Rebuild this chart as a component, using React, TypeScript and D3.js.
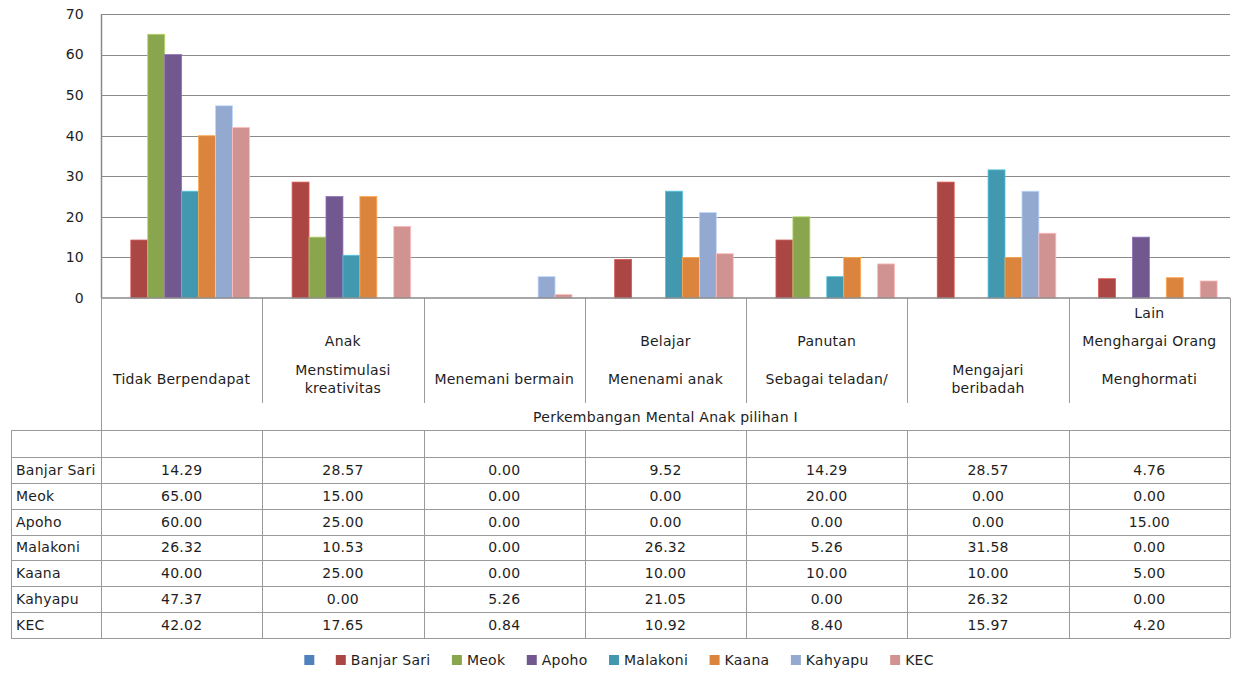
import React, { useEffect, useRef } from 'react';
import * as d3 from 'd3';

const categories: string[][] = [
  ['Tidak Berpendapat'],
  ['Anak', 'Menstimulasi\nkreativitas'],
  ['Menemani bermain'],
  ['Belajar', 'Menenami anak'],
  ['Panutan', 'Sebagai teladan/'],
  ['Mengajari\nberibadah'],
  ['Lain', 'Menghargai Orang', 'Menghormati'],
];
const seriesNames = ['', 'Banjar Sari', 'Meok', 'Apoho', 'Malakoni', 'Kaana', 'Kahyapu', 'KEC'];
const seriesColors = ['#4F81BD', '#AA4643', '#89A54E', '#71588F', '#4198AF', '#DB843D', '#93A9CF', '#D19392'];
const blankSeries: (number | null)[] = [null, null, null, null, null, null, null];
const banjarSari = [14.29, 28.57, 0.0, 9.52, 14.29, 28.57, 4.76];
const meok = [65.0, 15.0, 0.0, 0.0, 20.0, 0.0, 0.0];
const apoho = [60.0, 25.0, 0.0, 0.0, 0.0, 0.0, 15.0];
const malakoni = [26.32, 10.53, 0.0, 26.32, 5.26, 31.58, 0.0];
const kaana = [40.0, 25.0, 0.0, 10.0, 10.0, 10.0, 5.0];
const kahyapu = [47.37, 0.0, 5.26, 21.05, 0.0, 26.32, 0.0];
const kec = [42.02, 17.65, 0.84, 10.92, 8.4, 15.97, 4.2];
const yTicks = [0, 10, 20, 30, 40, 50, 60, 70];
const axisTitle = 'Perkembangan Mental Anak pilihan I';

const seriesValues = [blankSeries, banjarSari, meok, apoho, malakoni, kaana, kahyapu, kec];

const W = 1233;
const H = 683;
const FONT = '"DejaVu Sans", Verdana, sans-serif';
const LS = '0.25px';
const TEXT = '#1e1e1e';
const GRID = '#8a8a8a';
const TABLE = '#9a9a9a';

export default function App() {
  const ref = useRef<SVGSVGElement | null>(null);

  useEffect(() => {
    const svg = d3.select(ref.current);
    svg.selectAll('*').remove();

    const left = 101, right = 1230, top = 14, base = 298;
    const catIdx = categories.map((_, i) => String(i));
    const x0 = d3.scaleBand<string>().domain(catIdx).range([left, right]).paddingInner(0).paddingOuter(0);
    const x1 = d3.scaleBand<string>().domain(seriesNames.map((_, i) => String(i))).range([0, x0.bandwidth()]).paddingInner(0).paddingOuter(0.76);
    const y = d3.scaleLinear().domain([0, 70]).range([base, top]);

    // gridlines
    svg.append('g').selectAll('line').data(yTicks.filter(t => t > 0)).join('line')
      .attr('x1', left).attr('x2', right)
      .attr('y1', d => Math.round(y(d)) + 0.5).attr('y2', d => Math.round(y(d)) + 0.5)
      .attr('stroke', GRID).attr('stroke-width', 1);

    // tick labels
    svg.append('g').selectAll('text').data(yTicks).join('text')
      .attr('x', 84).attr('y', d => y(d)).attr('dy', '0.35em')
      .attr('text-anchor', 'end').attr('font-family', FONT).attr('font-size', 14).attr('fill', TEXT)
      .attr('letter-spacing', LS)
      .text(d => String(d));

    // bars
    const bars: { c: number; s: number; v: number }[] = [];
    seriesValues.forEach((vals, s) => vals.forEach((v, c) => { if (v !== null) bars.push({ c, s, v: v as number }); }));
    svg.append('g').selectAll('rect').data(bars).join('rect')
      .attr('x', d => (x0(String(d.c)) as number) + (x1(String(d.s)) as number))
      .attr('width', x1.bandwidth())
      .attr('y', d => y(d.v))
      .attr('height', d => base - y(d.v))
      .attr('fill', d => seriesColors[d.s])
      .attr('stroke', d => (d3.color(seriesColors[d.s]) as any).brighter(0.7).formatHex())
      .attr('stroke-width', d => (d.v > 0 ? 0.8 : 0));

    // table geometry
    const tableLeft = 11;
    const headerBottom = 403;
    const titleBottom = 430;
    const blankBottom = 457;
    const rowH = (638 - 457) / 7;
    const rowNames = seriesNames.slice(1);
    const rowsY = d3.range(rowNames.length + 1).map(i => blankBottom + i * rowH);
    const tg = svg.append('g');

    const bounds = catIdx.map(c => x0(c) as number).concat([right]);
    tg.selectAll('line.hv').data(bounds).join('line').attr('class', 'hv')
      .attr('x1', d => Math.round(d) + 0.5).attr('x2', d => Math.round(d) + 0.5)
      .attr('y1', base).attr('y2', (d, i) => (i === 0 || i === bounds.length - 1 ? titleBottom : headerBottom))
      .attr('stroke', TABLE).attr('stroke-width', 1);
    tg.selectAll('line.dv').data([tableLeft, ...bounds]).join('line').attr('class', 'dv')
      .attr('x1', d => Math.round(d) + 0.5).attr('x2', d => Math.round(d) + 0.5)
      .attr('y1', titleBottom).attr('y2', rowsY[rowsY.length - 1])
      .attr('stroke', TABLE).attr('stroke-width', 1);
    tg.selectAll('line.h').data([titleBottom, ...rowsY]).join('line').attr('class', 'h')
      .attr('x1', tableLeft).attr('x2', right)
      .attr('y1', d => Math.round(d) + 0.5).attr('y2', d => Math.round(d) + 0.5)
      .attr('stroke', TABLE).attr('stroke-width', 1);

    // axes lines
    svg.append('line').attr('x1', left + 0.5).attr('x2', left + 0.5).attr('y1', top).attr('y2', base)
      .attr('stroke', GRID).attr('stroke-width', 1.5);
    svg.append('line').attr('x1', left).attr('x2', right).attr('y1', base).attr('y2', base)
      .attr('stroke', GRID).attr('stroke-width', 1.6);

    const addText = (g: any, x: number, yy: number, s: string, anchor = 'middle') =>
      g.append('text').attr('x', x).attr('y', yy).attr('dy', '0.35em')
        .attr('text-anchor', anchor).attr('font-family', FONT).attr('font-size', 14).attr('fill', TEXT)
        .attr('letter-spacing', LS).text(s);

    // category labels
    categories.forEach((paras, ci) => {
      const cx = (x0(String(ci)) as number) + x0.bandwidth() / 2;
      const n = paras.length;
      paras.forEach((p, pi) => {
        const k = n - 1 - pi;
        const center = k === 0 ? 379 : k === 1 ? 341 : 313;
        const lines = p.split('\n');
        lines.forEach((ln, li) => {
          const ly = center + (li - (lines.length - 1) / 2) * 18;
          addText(tg, cx, ly, ln);
        });
      });
    });

    // axis title
    addText(tg, (left + right) / 2, 417, axisTitle);

    // data rows
    const rowSeries = seriesValues.slice(1) as number[][];
    rowNames.forEach((name, ri) => {
      const cy = rowsY[ri] + rowH / 2;
      addText(tg, 16, cy, name, 'start');
      rowSeries[ri].forEach((v, ci) => {
        const cx = (x0(String(ci)) as number) + x0.bandwidth() / 2;
        addText(tg, cx, cy, d3.format('.2f')(v));
      });
    });

    // legend
    const lg = svg.append('g');
    const items = seriesNames.map((name, i) => {
      const g = lg.append('g');
      g.append('rect').attr('x', 0).attr('y', -5).attr('width', 10).attr('height', 10).attr('fill', seriesColors[i]);
      const t = addText(g, 15, 0, name, 'start');
      const tw = name ? (t.node() as SVGTextElement).getComputedTextLength() : 0;
      return { g, w: name ? 15 + tw : 10 };
    });
    const gap = 21.5;
    const total = d3.sum(items, d => d.w) + gap * (items.length - 1);
    let cx = 619 - total / 2;
    items.forEach(it => {
      it.g.attr('transform', `translate(${cx},660)`);
      cx += it.w + gap;
    });
  }, []);

  return (
    <svg ref={ref} width={W} height={H} style={{ position: 'absolute', left: 0, top: 0, background: '#fff' }} />
  );
}
